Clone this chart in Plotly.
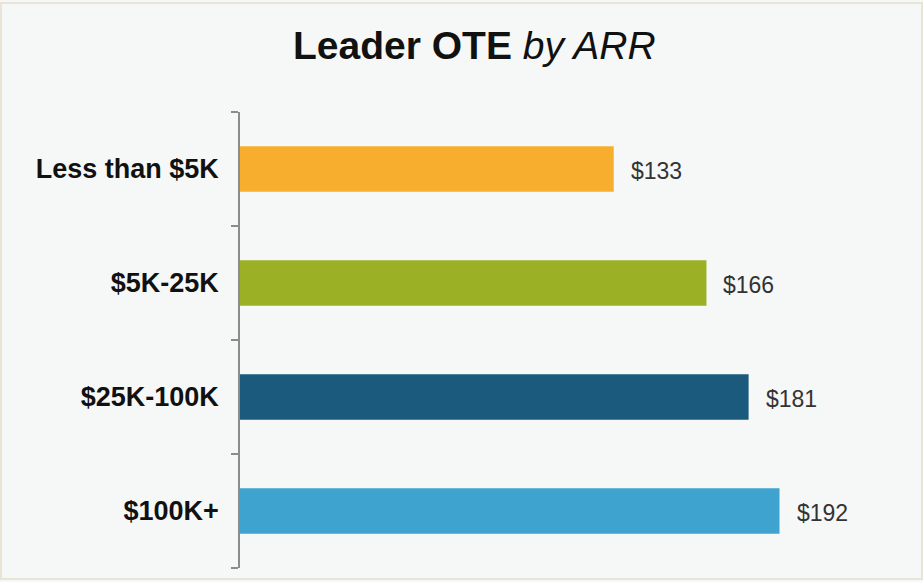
import plotly.graph_objects as go

categories = ["Less than $5K", "$5K-25K", "$25K-100K", "$100K+"]
values = [133, 166, 181, 192]
value_labels = ["$133", "$166", "$181", "$192"]
colors = ["#F7AE2E", "#9BB024", "#1B5A7D", "#3EA3CF"]

W, H = 923, 582
ML, MR, MT, MB = 240, 43, 112, 14
PW, PH = W - ML - MR, H - MT - MB

fig = go.Figure(
    go.Bar(
        y=categories,
        x=values,
        orientation="h",
        marker=dict(color=colors, line=dict(width=0)),
        width=0.4,
        hoverinfo="skip",
    )
)

annotations = [
    dict(
        x=v, y=c, text=t, xref="x", yref="y",
        xanchor="left", yanchor="middle", xshift=15, yshift=-2, showarrow=False,
        font=dict(family="Arial, Liberation Sans, sans-serif", size=23, color="#333333"),
    )
    for c, v, t in zip(categories, values, value_labels)
]
annotations.append(
    dict(
        x=(474 - ML) / PW, y=(H - 45 - MB) / PH, xref="paper", yref="paper",
        text="<b>Leader OTE</b> <i>by ARR</i>", showarrow=False,
        xanchor="center", yanchor="middle",
        font=dict(family="Arial, Liberation Sans, sans-serif", size=39, color="#111111"),
    )
)

fig.update_layout(
    width=W, height=H,
    margin=dict(l=ML, r=MR, t=MT, b=MB),
    paper_bgcolor="#F6F8F8",
    plot_bgcolor="#F6F8F8",
    showlegend=False,
    annotations=annotations,
    shapes=[
        dict(
            type="rect", xref="paper", yref="paper",
            x0=(1 - ML) / PW, x1=(W - 1 - ML) / PW,
            y0=(3 - MB) / PH, y1=(H - 3 - MB) / PH,
            line=dict(color="#E9E4D6", width=2), fillcolor="rgba(0,0,0,0)",
        )
    ],
)

fig.update_xaxes(
    range=[0, PW / 2.81], visible=False, showgrid=False, zeroline=False,
)
fig.update_yaxes(
    categoryorder="array", categoryarray=categories[::-1],
    showline=True, linecolor="#8C8C8C", linewidth=1.5,
    ticks="outside", tickson="boundaries", ticklen=7, tickcolor="#8C8C8C", tickwidth=1.5,
    ticklabelstandoff=14,
    tickfont=dict(family="Arial, Liberation Sans, sans-serif", size=27, color="#111111", weight="bold"),
    showgrid=False, zeroline=False,
)

fig.write_html("out.html")
